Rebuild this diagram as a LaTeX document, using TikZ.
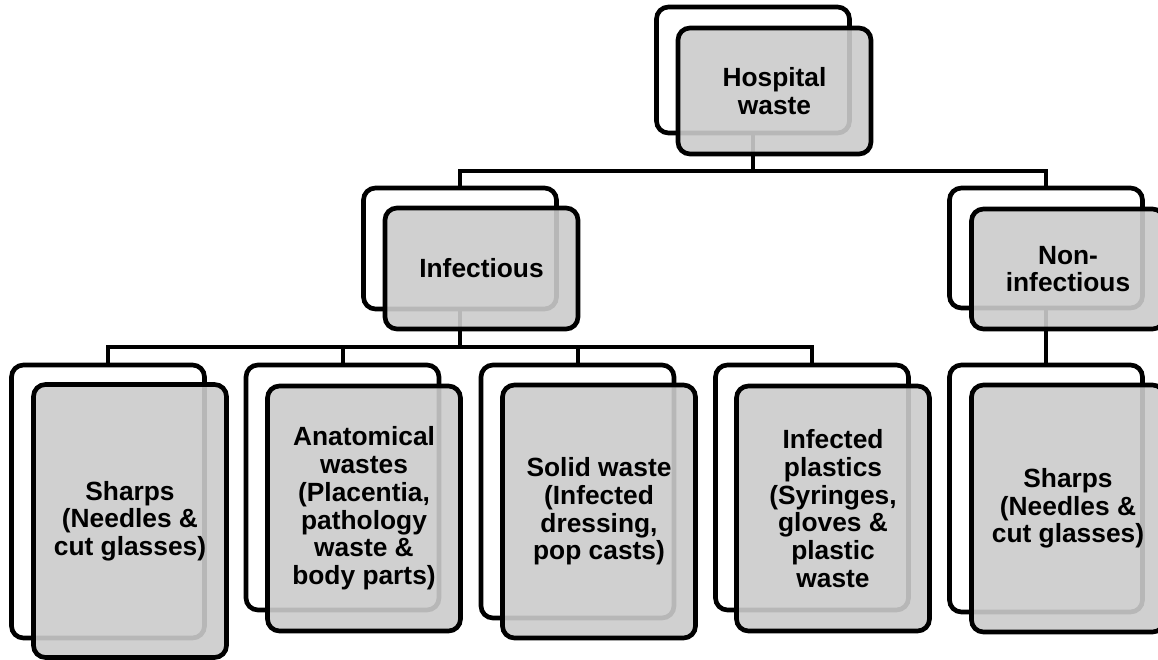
\documentclass[tikz,border=0pt]{standalone}
\usepackage{fontspec}
\setmainfont{Liberation Sans}
\begin{document}
\begin{tikzpicture}[x=0.75pt,y=0.75pt,yscale=-1,xscale=1,
  backbox/.style={draw=black,line width=3.5pt,fill=white,rounded corners=9pt,minimum width=144.75pt,inner sep=0pt,outer sep=0pt},
  frontbox/.style={draw=black,line width=3.5pt,fill={rgb,255:red,203;green,203;blue,203},fill opacity=0.9,text opacity=1,rounded corners=9pt,minimum width=144.75pt,inner sep=0pt,outer sep=0pt,align=center,font=\bfseries\fontsize{19.75pt}{20.8pt}\selectfont},
  link/.style={line width=3pt}]
\useasboundingbox (0,0) rectangle (1158,660);

%Rounded Rect (back)
\node [backbox,minimum height=94.5pt] (hospitalBack) at (753,70) {};
\node [backbox,minimum height=90.75pt] (infectiousBack) at (460,248.5) {};
\node [backbox,minimum height=90pt] (noninfBack) at (1046,248) {};
\node [backbox,minimum height=204.75pt] (sharpsBack) at (108,501.5) {};
\node [backbox,minimum height=183.75pt] (anatomicalBack) at (342.5,487.5) {};
\node [backbox,minimum height=189.75pt] (solidBack) at (577.5,491.5) {};
\node [backbox,minimum height=183.75pt] (plasticsBack) at (812,487.5) {};
\node [backbox,minimum height=185.25pt] (sharpsTwoBack) at (1046,488.5) {};

\coordinate (busTop) at (0,171);
\coordinate (busMid) at (0,347);

%Straight Lines
\draw [link] (hospitalBack.south) -- (hospitalBack.south |- busTop) -| (infectiousBack.north);
\draw [link] (hospitalBack.south |- busTop) -| (noninfBack.north);
%Straight Lines
\draw [link] (infectiousBack.south) -- (infectiousBack.south |- busMid) -| (sharpsBack.north);
\draw [link] (infectiousBack.south |- busMid) -| (anatomicalBack.north);
\draw [link] (infectiousBack.south |- busMid) -| (solidBack.north);
\draw [link] (infectiousBack.south |- busMid) -| (plasticsBack.north);
%Straight Lines
\draw [link] (noninfBack.south) -- (sharpsTwoBack.north);

% Text Node
\node [frontbox,minimum height=94.5pt] (hospital) at (774.5,91) {Hospital\\waste};
% Text Node
\node [frontbox,minimum height=90.75pt] (infectious) at (481.5,268.5) {Infectious};
% Text Node
\node [frontbox,minimum height=90pt] (noninf) at (1068,269) {Non-\\infectious};
% Text Node
\node [frontbox,minimum height=204.75pt] (sharps) at (130,521) {Sharps\\(Needles \&\\cut glasses)};
% Text Node
\node [frontbox,minimum height=183.75pt] (anatomical) at (364,508.5) {Anatomical\\wastes\\(Placentia,\\pathology\\waste \&\\body parts)};
% Text Node
\node [frontbox,minimum height=189.75pt] (solid) at (599,511.5) {Solid waste\\(Infected\\dressing,\\pop casts)};
% Text Node
\node [frontbox,minimum height=183.75pt] (plastics) at (833,508.5) {Infected\\plastics\\(Syringes,\\gloves \&\\plastic\\waste};
% Text Node
\node [frontbox,minimum height=185.25pt] (sharpsTwo) at (1068,508.5) {Sharps\\(Needles \&\\cut glasses)};

\end{tikzpicture}
\end{document}
